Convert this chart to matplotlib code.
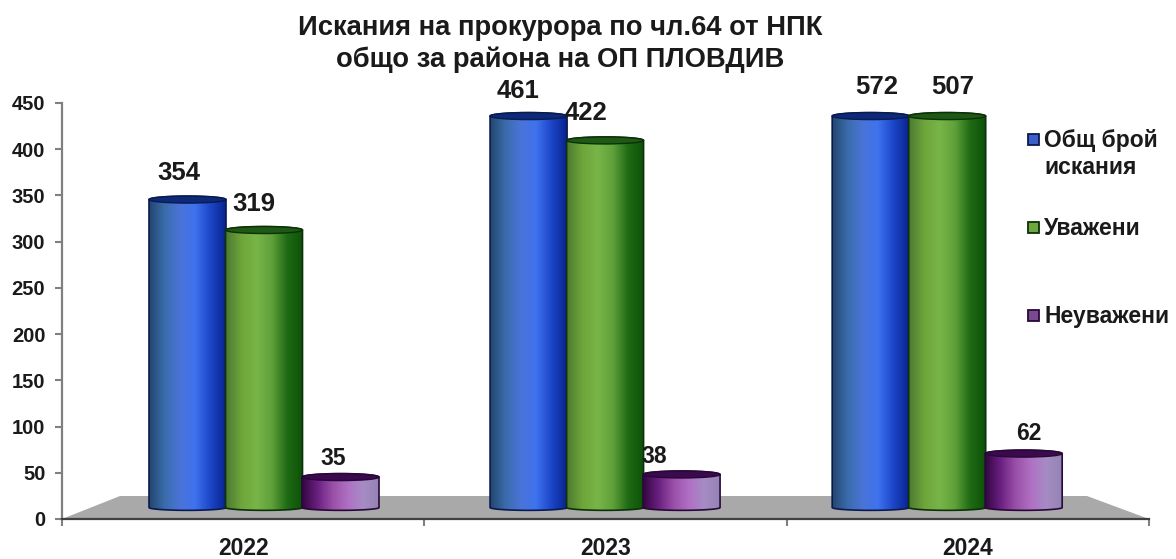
import numpy as np
import matplotlib
matplotlib.use('Agg')
import matplotlib.pyplot as plt
from matplotlib.colors import LinearSegmentedColormap
from matplotlib.patches import Polygon, Rectangle, Ellipse

plt.rcParams['font.family'] = ['Liberation Sans', 'DejaVu Sans']

# data
years = ['2022', '2023', '2024']
series_names = ['Общ брой\nискания', 'Уважени', 'Неуважени']
total = [354, 461, 572]
granted = [319, 422, 507]
refused = [35, 38, 62]
y_ticks = [0, 50, 100, 150, 200, 250, 300, 350, 400, 450]
y_max = 450

W, H = 1176, 559
PX_L, PX_R, PX_B, PX_T = 62, 1149, 519, 103
UX = (PX_R - PX_L) / 3
UY = (PX_B - PX_T) / y_max

# the fake 3d: bars stand a bit above the axis and are slightly squeezed
FLOOR = 12.4
SQUEEZE = 0.941
GROUP_X = [0.5575, 1.4988, 2.443]
BAR_W = 77 / UX
RY = 3.5 / UY

gradients = [
    ['#24466e', '#3a6cab', '#4a74d8', '#3f72ee', '#1c46c8', '#0a2490'],
    ['#4d7a32', '#6ea63a', '#78b548', '#5fa03a', '#1f6a14', '#0d5208'],
    ['#330640', '#6a2080', '#9a50a8', '#b070c4', '#a68cc4', '#9484b4'],
]
tops = ['#0d2a78', '#1e5a14', '#3a0a4c']
edges = ['#0a1a50', '#0c300a', '#280838']
legend_colors = ['#3a5fc8', '#6fa83e', '#7a4a90']

# label offsets in pixels from the bar top centre
label_dx = [[-9, -10, -7], [-11, -19, -27], [6, 6, 5]]
label_dy = [[27, 26, 19], [25, 27, 18], [29, 29, 20]]


def top_of(v):
    return FLOOR + min(v, y_max) * SQUEEZE


def draw_cylinder(ax, cx, value, k, z):
    x0, x1 = cx - BAR_W / 2, cx + BAR_W / 2
    y0, y1 = FLOOR, top_of(value)
    t = np.linspace(0, np.pi, 40)
    xs = cx + BAR_W / 2 * np.cos(t)
    low = np.column_stack([xs[::-1], y0 - RY * 0.8 * np.sin(t)])
    up = np.column_stack([xs, y1 + RY * np.sin(t)])
    outline = Polygon(np.vstack([low, up]), closed=True, transform=ax.transData)
    cmap = LinearSegmentedColormap.from_list('c%d' % k, gradients[k])
    im = ax.imshow(np.linspace(0, 1, 128).reshape(1, -1), cmap=cmap, aspect='auto',
                   extent=[x0, x1, y0 - RY, y1 + RY], zorder=z, interpolation='bilinear')
    im.set_clip_path(outline)
    ax.add_patch(Polygon(np.vstack([low, up]), closed=True, fill=False,
                         edgecolor=edges[k], lw=1.2, zorder=z + 0.1))
    ax.add_patch(Ellipse((cx, y1), BAR_W, RY * 2, facecolor=tops[k],
                         edgecolor=edges[k], lw=1.0, zorder=z + 0.2))


fig = plt.figure(figsize=(W / 100, H / 100), dpi=100)
ax = fig.add_axes([PX_L / W, 1 - PX_B / H, (PX_R - PX_L) / W, (PX_B - PX_T) / H])

floor_x = [0, 58 / UX, 3 - 62 / UX, 3]
floor_y = [0, 23 / UY, 23 / UY, 0]
ax.add_patch(Polygon(np.column_stack([floor_x, floor_y]), closed=True,
                     facecolor='#a9a9a9', edgecolor='none', zorder=1))

all_series = [total, granted, refused]
for k, values in enumerate(all_series):
    for i, v in enumerate(values):
        cx = GROUP_X[i] + (k - 1) * (76.5 / UX)
        draw_cylinder(ax, cx, v, k, 2 + k)
        small = k == 2
        ax.annotate(str(v), (cx, top_of(v)),
                    xytext=(label_dx[i][k] * 0.72, label_dy[i][k] * 0.72),
                    textcoords='offset points', ha='center', va='center',
                    fontsize=16.5 if small else 18.5, fontweight='bold',
                    color='#1a1a1a', zorder=10)

ax.set_xlim(0, 3)
ax.set_ylim(0, y_max)
ax.set_yticks(y_ticks)
ax.set_xticks([0, 1, 2, 3])
ax.set_xticklabels([])
ax.set_xticks([0.5, 1.5, 2.5], minor=True)
ax.set_xticklabels(years, minor=True, fontsize=16.5, fontweight='bold', color='#1a1a1a')
ax.tick_params(axis='x', which='minor', length=0, pad=13)
ax.tick_params(axis='x', which='major', length=5, width=1.5, color='#808080')
ax.tick_params(axis='y', length=5, width=1.5, color='#808080', pad=7)
for lab in ax.get_yticklabels():
    lab.set_fontsize(14.5)
    lab.set_fontweight('bold')
    lab.set_color('#1a1a1a')
ax.spines['top'].set_visible(False)
ax.spines['right'].set_visible(False)
ax.spines['left'].set_color('#808080')
ax.spines['left'].set_linewidth(1.6)
ax.spines['bottom'].set_color('#404040')
ax.spines['bottom'].set_linewidth(1.6)
ax.patch.set_alpha(0)

fig.text(560 / W, 1 - 44 / H, 'Искания на прокурора по чл.64 от НПК\nобщо за района на ОП ПЛОВДИВ',
         ha='center', va='center', fontsize=19.7, fontweight='bold', color='#1a1a1a',
         linespacing=1.24)

# legend
legend_y = [140, 228, 316]
for k, name in enumerate(series_names):
    fig.patches.append(Rectangle((1028 / W, 1 - (legend_y[k] + 5) / H), 11 / W, 11 / H,
                                 transform=fig.transFigure, facecolor=legend_colors[k],
                                 edgecolor=edges[k], lw=1.3))
    fig.text(1044 / W, 1 - (legend_y[k] - 11) / H, name, ha='left', va='top',
             fontsize=16.5, fontweight='bold', color='#1a1a1a', linespacing=1.2)

fig.savefig('out.png', dpi=100, facecolor='white')
